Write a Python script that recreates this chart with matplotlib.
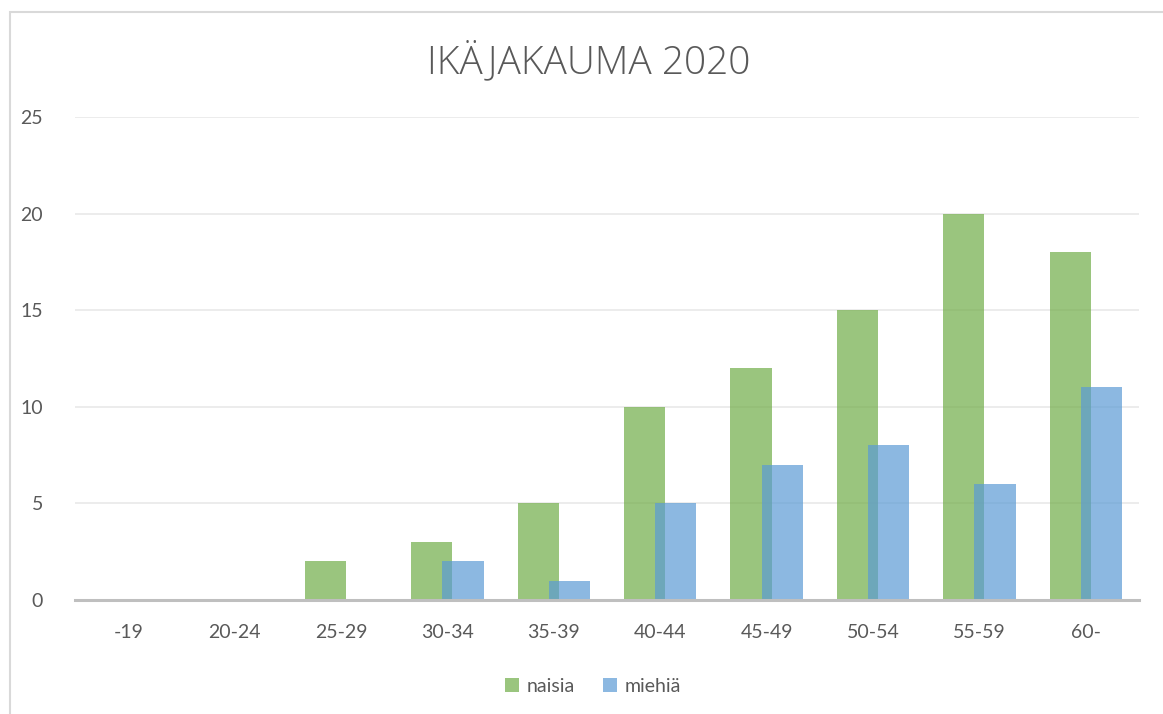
import numpy as np
import matplotlib
matplotlib.use("Agg")
import matplotlib.pyplot as plt
from matplotlib.patches import Rectangle

plt.rcParams['font.family'] = ['Lato', 'DejaVu Sans']

# ikäryhmät ja lukumäärät
categories = ['-19', '20-24', '25-29', '30-34', '35-39', '40-44', '45-49', '50-54', '55-59', '60-']
naisia = [0, 0, 2, 3, 5, 10, 12, 15, 20, 18]
miehia = [0, 0, 0, 2, 1, 5, 7, 8, 6, 11]
yticks = [0, 5, 10, 15, 20, 25]

GREEN = '#70AD47'
BLUE = '#5B9BD5'
TXT = '#595959'

fig = plt.figure(figsize=(11.63, 7.14), dpi=100)
ax = fig.add_axes([75 / 1163, 1 - 600 / 714, 1064 / 1163, 483 / 714])

x = np.arange(len(categories))
w = 0.387
off = 0.146
ax.bar(x - off, naisia, w, color=GREEN, alpha=0.7, label='naisia', zorder=2)
ax.bar(x + off, miehia, w, color=BLUE, alpha=0.7, label='miehiä', zorder=3)

ax.set_xlim(-0.5, len(categories) - 0.5)
ax.set_ylim(0, 25)
ax.set_yticks(yticks)
ax.set_xticks(x)
ax.set_xticklabels(categories)
ax.yaxis.grid(True, color='#EBEBEB', linewidth=1.3, zorder=0)
ax.set_axisbelow(True)

for s in ['top', 'right', 'left']:
    ax.spines[s].set_visible(False)
ax.spines['bottom'].set_color('#BFBFBF')
ax.spines['bottom'].set_linewidth(2.2)
ax.spines['bottom'].set_zorder(4)

ax.tick_params(axis='both', length=0, labelsize=14, colors=TXT)
ax.tick_params(axis='y', pad=23)
ax.tick_params(axis='x', pad=17)

fig.text(589 / 1163, 1 - 62 / 714, 'IKÄJAKAUMA 2020', ha='center', va='center',
         fontsize=28, color=TXT, family=['Open Sans', 'DejaVu Sans'], fontweight=300)

leg = fig.legend(loc='center', bbox_to_anchor=(593 / 1163, 1 - 686 / 714), ncol=2,
                 frameon=False, fontsize=14, handlelength=0.75, handleheight=0.75,
                 handletextpad=0.4, columnspacing=1.4)
for t in leg.get_texts():
    t.set_color(TXT)

# kehys kaavion ympärillä
fig.patches.append(Rectangle((10 / 1163, -0.01), 1.2, 1 - 12 / 714 + 0.01,
                             transform=fig.transFigure, fill=False,
                             edgecolor='#D9D9D9', linewidth=1.5))

fig.savefig('out.png', dpi=100, facecolor='white')
